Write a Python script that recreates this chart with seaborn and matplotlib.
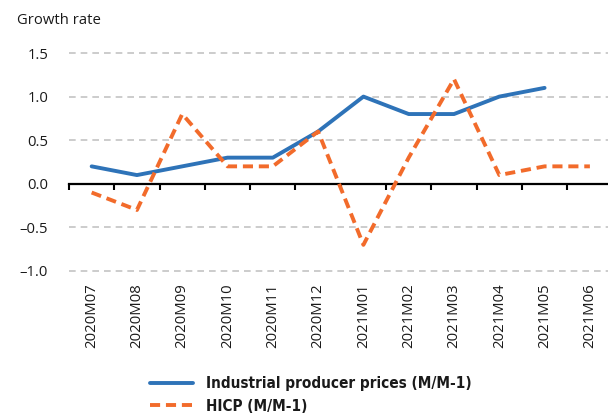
import matplotlib
matplotlib.use("Agg")
import matplotlib.pyplot as plt
import seaborn as sns
import pandas as pd
import numpy as np

# Monthly growth rates (M/M-1)
months = ["2020M07", "2020M08", "2020M09", "2020M10", "2020M11", "2020M12",
          "2021M01", "2021M02", "2021M03", "2021M04", "2021M05", "2021M06"]
industrial = [0.2, 0.1, 0.2, 0.3, 0.3, 0.6, 1.0, 0.8, 0.8, 1.0, 1.1, np.nan]
hicp = [-0.1, -0.3, 0.8, 0.2, 0.2, 0.6, -0.7, 0.3, 1.2, 0.1, 0.2, 0.2]
series_names = ["Industrial producer prices (M/M-1)", "HICP (M/M-1)"]
ytick_values = [-1.0, -0.5, 0.0, 0.5, 1.0, 1.5]
ytick_labels = ["\u20131.0", "\u20130.5", "0.0", "0.5", "1.0", "1.5"]

blue = "#2e73b8"
orange = "#f26b2b"

sns.set_theme(style="white")
plt.rcParams["font.family"] = ["Open Sans", "DejaVu Sans"]

df = pd.concat([
    pd.DataFrame({"month": months, "value": industrial, "series": series_names[0]}),
    pd.DataFrame({"month": months, "value": hicp, "series": series_names[1]}),
]).dropna()

fig = plt.figure(figsize=(6.08, 4.16), dpi=100)
W, H = 608, 416
y0, y1 = -1.03, 1.53
px_per_unit = 87.2
top_px = 53 - (y1 - 1.5) * px_per_unit
bot_px = 271 + (-1.0 - y0) * px_per_unit
ax = fig.add_axes([69 / W, 1 - bot_px / H, 1 - 69 / W, (bot_px - top_px) / H])

sns.lineplot(data=df, x="month", y="value", hue="series", style="series",
             palette={series_names[0]: blue, series_names[1]: orange},
             dashes={series_names[0]: "", series_names[1]: (2.6, 1.5)},
             linewidth=2.8, ax=ax, legend=False, sort=False)

ax.set_xlim(-0.5, 11.4)
ax.set_ylim(y0, y1)
for s in ax.spines.values():
    s.set_visible(False)

# horizontal dashed grid (the zero level gets a solid axis line instead)
ax.set_yticks(ytick_values)
ax.set_yticklabels(ytick_labels, fontsize=10.7, color="#1a1a1a")
ax.tick_params(axis="y", length=0, pad=15)
for v in ytick_values:
    if v != 0:
        ax.axhline(v, color="#c4c4c4", linestyle=(0, (4, 3)), linewidth=1.2,
                   zorder=0)

# category labels along the bottom
ax.set_xticks(range(len(months)))
ax.set_xticklabels(months, rotation=90, fontsize=10.7, color="#1a1a1a")
ax.tick_params(axis="x", length=0, pad=7)
ax.set_xlabel("")
ax.set_ylabel("")

# zero line with boundary ticks
zero_frac = (0 - y0) / (y1 - y0)
sec = ax.secondary_xaxis(zero_frac)
sec.set_xticks(np.arange(-0.5, len(months), 1.0))
sec.set_xticklabels([])
sec.spines["bottom"].set_linewidth(1.6)
sec.spines["bottom"].set_color("black")
sec.tick_params(axis="x", direction="out", length=4.5, width=1.5, color="black")

fig.text(17 / W, 1 - 20 / H, "Growth rate", fontsize=10.7, va="center", ha="left",
         color="#1a1a1a")

handles = [plt.Line2D([], [], color=blue, lw=2.8, solid_capstyle="round"),
           plt.Line2D([], [], color=orange, lw=2.8, dashes=(2.6, 1.5))]
leg = fig.legend(handles, series_names, loc="upper left",
                 bbox_to_anchor=(150 / W, 1 - 376 / H), frameon=False,
                 borderpad=0, borderaxespad=0, handlelength=2.8,
                 handletextpad=0.85, labelspacing=0.5,
                 prop={"family": ["DejaVu Sans"], "stretch": "condensed",
                       "weight": "bold", "size": 11})
for t in leg.get_texts():
    t.set_color("#1a1a1a")

fig.savefig("out.png", dpi=100)
